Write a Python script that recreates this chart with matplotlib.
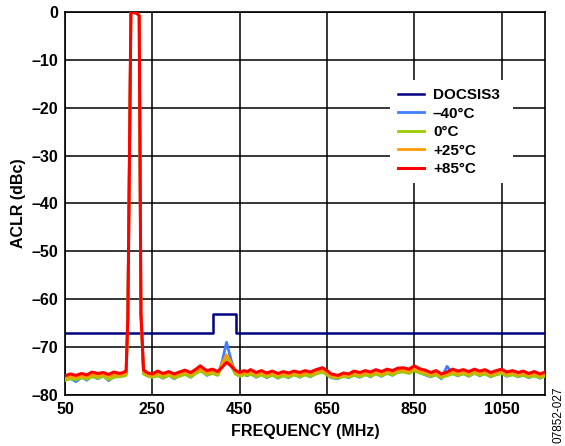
import matplotlib.pyplot as plt
from matplotlib.patches import Rectangle

plt.rcParams["font.family"] = ["Liberation Sans", "DejaVu Sans"]
plt.rcParams["font.weight"] = "bold"

# DOCSIS3 mask
mask_freq = [50, 390, 390, 441, 441, 1150]
mask_dbc = [-67.0, -67.0, -63.0, -63.0, -67.0, -67.0]

freq = [50, 62, 75, 88, 100, 112, 125, 138, 150, 162,
        175, 183, 190, 194, 201, 215, 220, 224, 230, 240,
        250, 262, 275, 288, 300, 312, 325, 338, 350, 360,
        368, 375, 388, 400, 410, 420, 430, 440, 450, 460,
        468, 475, 488, 500, 512, 525, 538, 550, 562, 575,
        588, 600, 612, 625, 640, 650, 660, 675, 688, 700,
        712, 725, 738, 750, 762, 775, 788, 800, 812, 825,
        838, 850, 862, 875, 888, 900, 912, 925, 938, 950,
        962, 975, 988, 1000, 1012, 1025, 1038, 1050, 1062, 1075,
        1088, 1100, 1112, 1125, 1138, 1150]

m40 = [-76.8, -76.5, -77.2, -76.3, -76.9, -76.0, -76.6, -76.0, -77.0, -76.2,
       -76.1, -76.0, -75.8, -64.0, 0.0, -0.3, -0.8, -63.0, -75.5, -76.0,
       -76.2, -75.9, -76.5, -75.8, -76.6, -76.0, -75.6, -76.3, -75.4, -74.9,
       -75.3, -75.9, -75.4, -75.8, -73.0, -69.0, -72.5, -75.5, -76.0, -75.7,
       -76.0, -75.5, -76.3, -75.7, -76.4, -75.8, -76.5, -75.9, -76.4, -75.7,
       -76.3, -75.7, -76.2, -75.5, -75.1, -75.7, -76.4, -76.6, -76.0, -76.4,
       -75.8, -76.3, -75.7, -76.2, -75.5, -76.1, -75.4, -75.9, -75.2, -75.1,
       -75.4, -74.8, -75.3, -75.8, -76.2, -75.7, -76.6, -74.0, -75.5, -76.0,
       -75.5, -76.1, -75.4, -76.0, -75.5, -76.2, -75.7, -75.4, -76.1, -75.7,
       -76.2, -75.8, -76.4, -75.9, -76.5, -76.0]

c0 = [-77.0, -76.6, -76.8, -76.4, -76.7, -76.2, -76.5, -76.1, -76.8, -76.3,
      -76.2, -76.1, -75.9, -64.0, 0.0, -0.3, -0.8, -63.0, -75.6, -76.1,
      -76.3, -76.0, -76.4, -75.9, -76.5, -76.1, -75.7, -76.2, -75.5, -75.0,
      -75.4, -75.8, -75.5, -75.9, -74.0, -72.6, -73.8, -75.6, -76.1, -75.8,
      -75.9, -75.6, -76.2, -75.8, -76.3, -75.9, -76.4, -76.0, -76.3, -75.8,
      -76.2, -75.8, -76.1, -75.6, -75.2, -75.8, -76.3, -76.5, -76.1, -76.3,
      -75.9, -76.2, -75.8, -76.1, -75.6, -76.0, -75.5, -75.8, -75.3, -75.2,
      -75.5, -74.9, -75.4, -75.7, -76.1, -75.8, -76.4, -76.0, -75.6, -75.9,
      -75.6, -76.0, -75.5, -75.9, -75.6, -76.1, -75.8, -75.5, -76.0, -75.8,
      -76.1, -75.9, -76.3, -76.0, -76.4, -76.1]

p25 = [-76.5, -76.2, -76.3, -76.1, -76.2, -75.8, -76.0, -75.7, -76.2, -75.8,
       -75.9, -75.8, -75.5, -64.0, 0.0, -0.3, -0.8, -63.0, -75.2, -75.8,
       -76.0, -75.6, -75.9, -75.5, -76.1, -75.6, -75.3, -75.7, -75.1, -74.6,
       -75.0, -75.4, -75.1, -75.5, -73.4, -71.6, -73.2, -75.2, -75.7, -75.4,
       -75.5, -75.2, -75.7, -75.4, -75.8, -75.5, -75.9, -75.5, -75.9, -75.4,
       -75.8, -75.4, -75.6, -75.2, -74.8, -75.4, -76.0, -76.2, -75.8, -76.0,
       -75.5, -75.8, -75.4, -75.6, -75.2, -75.6, -75.1, -75.4, -74.9, -74.8,
       -75.1, -74.5, -75.0, -75.3, -75.7, -75.4, -76.0, -75.6, -75.2, -75.5,
       -75.2, -75.6, -75.1, -75.5, -75.2, -75.7, -75.4, -75.1, -75.6, -75.4,
       -75.7, -75.5, -75.9, -75.6, -76.0, -75.7]

p85 = [-76.0, -75.6, -75.9, -75.5, -75.8, -75.2, -75.5, -75.3, -75.7, -75.2,
       -75.5, -75.3, -75.0, -64.0, 0.0, -0.3, -0.8, -63.0, -74.8, -75.4,
       -75.6, -75.0, -75.5, -75.1, -75.6, -75.2, -74.8, -75.3, -74.6, -73.9,
       -74.5, -74.9, -74.6, -75.1, -74.2, -73.2, -73.9, -74.8, -75.3, -74.9,
       -75.1, -74.7, -75.3, -74.9, -75.4, -75.0, -75.5, -75.1, -75.4, -75.0,
       -75.3, -74.9, -75.2, -74.7, -74.3, -74.9, -75.6, -75.9, -75.4, -75.6,
       -75.0, -75.3, -74.9, -75.2, -74.7, -75.1, -74.6, -74.9, -74.4, -74.3,
       -74.6, -73.9, -74.5, -74.8, -75.3, -74.9, -75.6, -75.2, -74.6, -75.0,
       -74.7, -75.1, -74.6, -75.0, -74.7, -75.3, -74.9, -74.6, -75.2, -74.9,
       -75.3, -75.0, -75.5, -75.1, -75.6, -75.2]

fig = plt.figure(figsize=(5.65, 4.46), dpi=100)
ax = fig.add_axes([0.115, 0.1143, 0.85, 0.859])

ax.plot(mask_freq, mask_dbc, color="#000080", lw=1.8, label="DOCSIS3", zorder=3)
ax.plot(freq, m40, color="#3f7fff", lw=2.0, label="\u201340\u00b0C", zorder=4)
ax.plot(freq, c0, color="#99cc00", lw=2.0, label="0\u00b0C", zorder=5)
ax.plot(freq, p25, color="#ff9900", lw=2.0, label="+25\u00b0C", zorder=6)
ax.plot(freq, p85, color="#ff0000", lw=2.2, label="+85\u00b0C", zorder=7)

ax.set_xlim(50, 1150)
ax.set_ylim(-80, 0)
xt = [50, 250, 450, 650, 850, 1050]
ax.set_xticks(xt)
ax.set_xticklabels([str(v) for v in xt])
yt = list(range(-80, 1, 10))
ax.set_yticks(yt)
ax.set_yticklabels([("\u2013" + str(-v)) if v < 0 else "0" for v in yt])
ax.tick_params(length=0, labelsize=11.5, pad=5)
ax.grid(True, color="black", lw=1.1)
for s in ax.spines.values():
    s.set_linewidth(1.2)

ax.set_xlabel("FREQUENCY (MHz)", fontsize=11.5, fontweight="bold", labelpad=5)
ax.set_ylabel("ACLR (dBc)", fontsize=11.5, fontweight="bold", labelpad=4)

# white patch behind the legend, hides the grid there
ax.add_patch(Rectangle((0.677, 0.5535), 0.256, 0.269, transform=ax.transAxes,
                       facecolor="white", edgecolor="none", zorder=2))

leg = ax.legend(loc="upper left", bbox_to_anchor=(0.677, 0.8215), frameon=False,
                fontsize=11, handlelength=1.7, labelspacing=0.3,
                borderpad=0, handletextpad=0.6)
for t in leg.get_texts():
    t.set_fontweight("bold")

fig.text(0.988, 0.07, "07852-027", rotation=90, fontsize=8.5, fontweight="normal",
         ha="center", va="center")

fig.savefig("out.png", dpi=100)
